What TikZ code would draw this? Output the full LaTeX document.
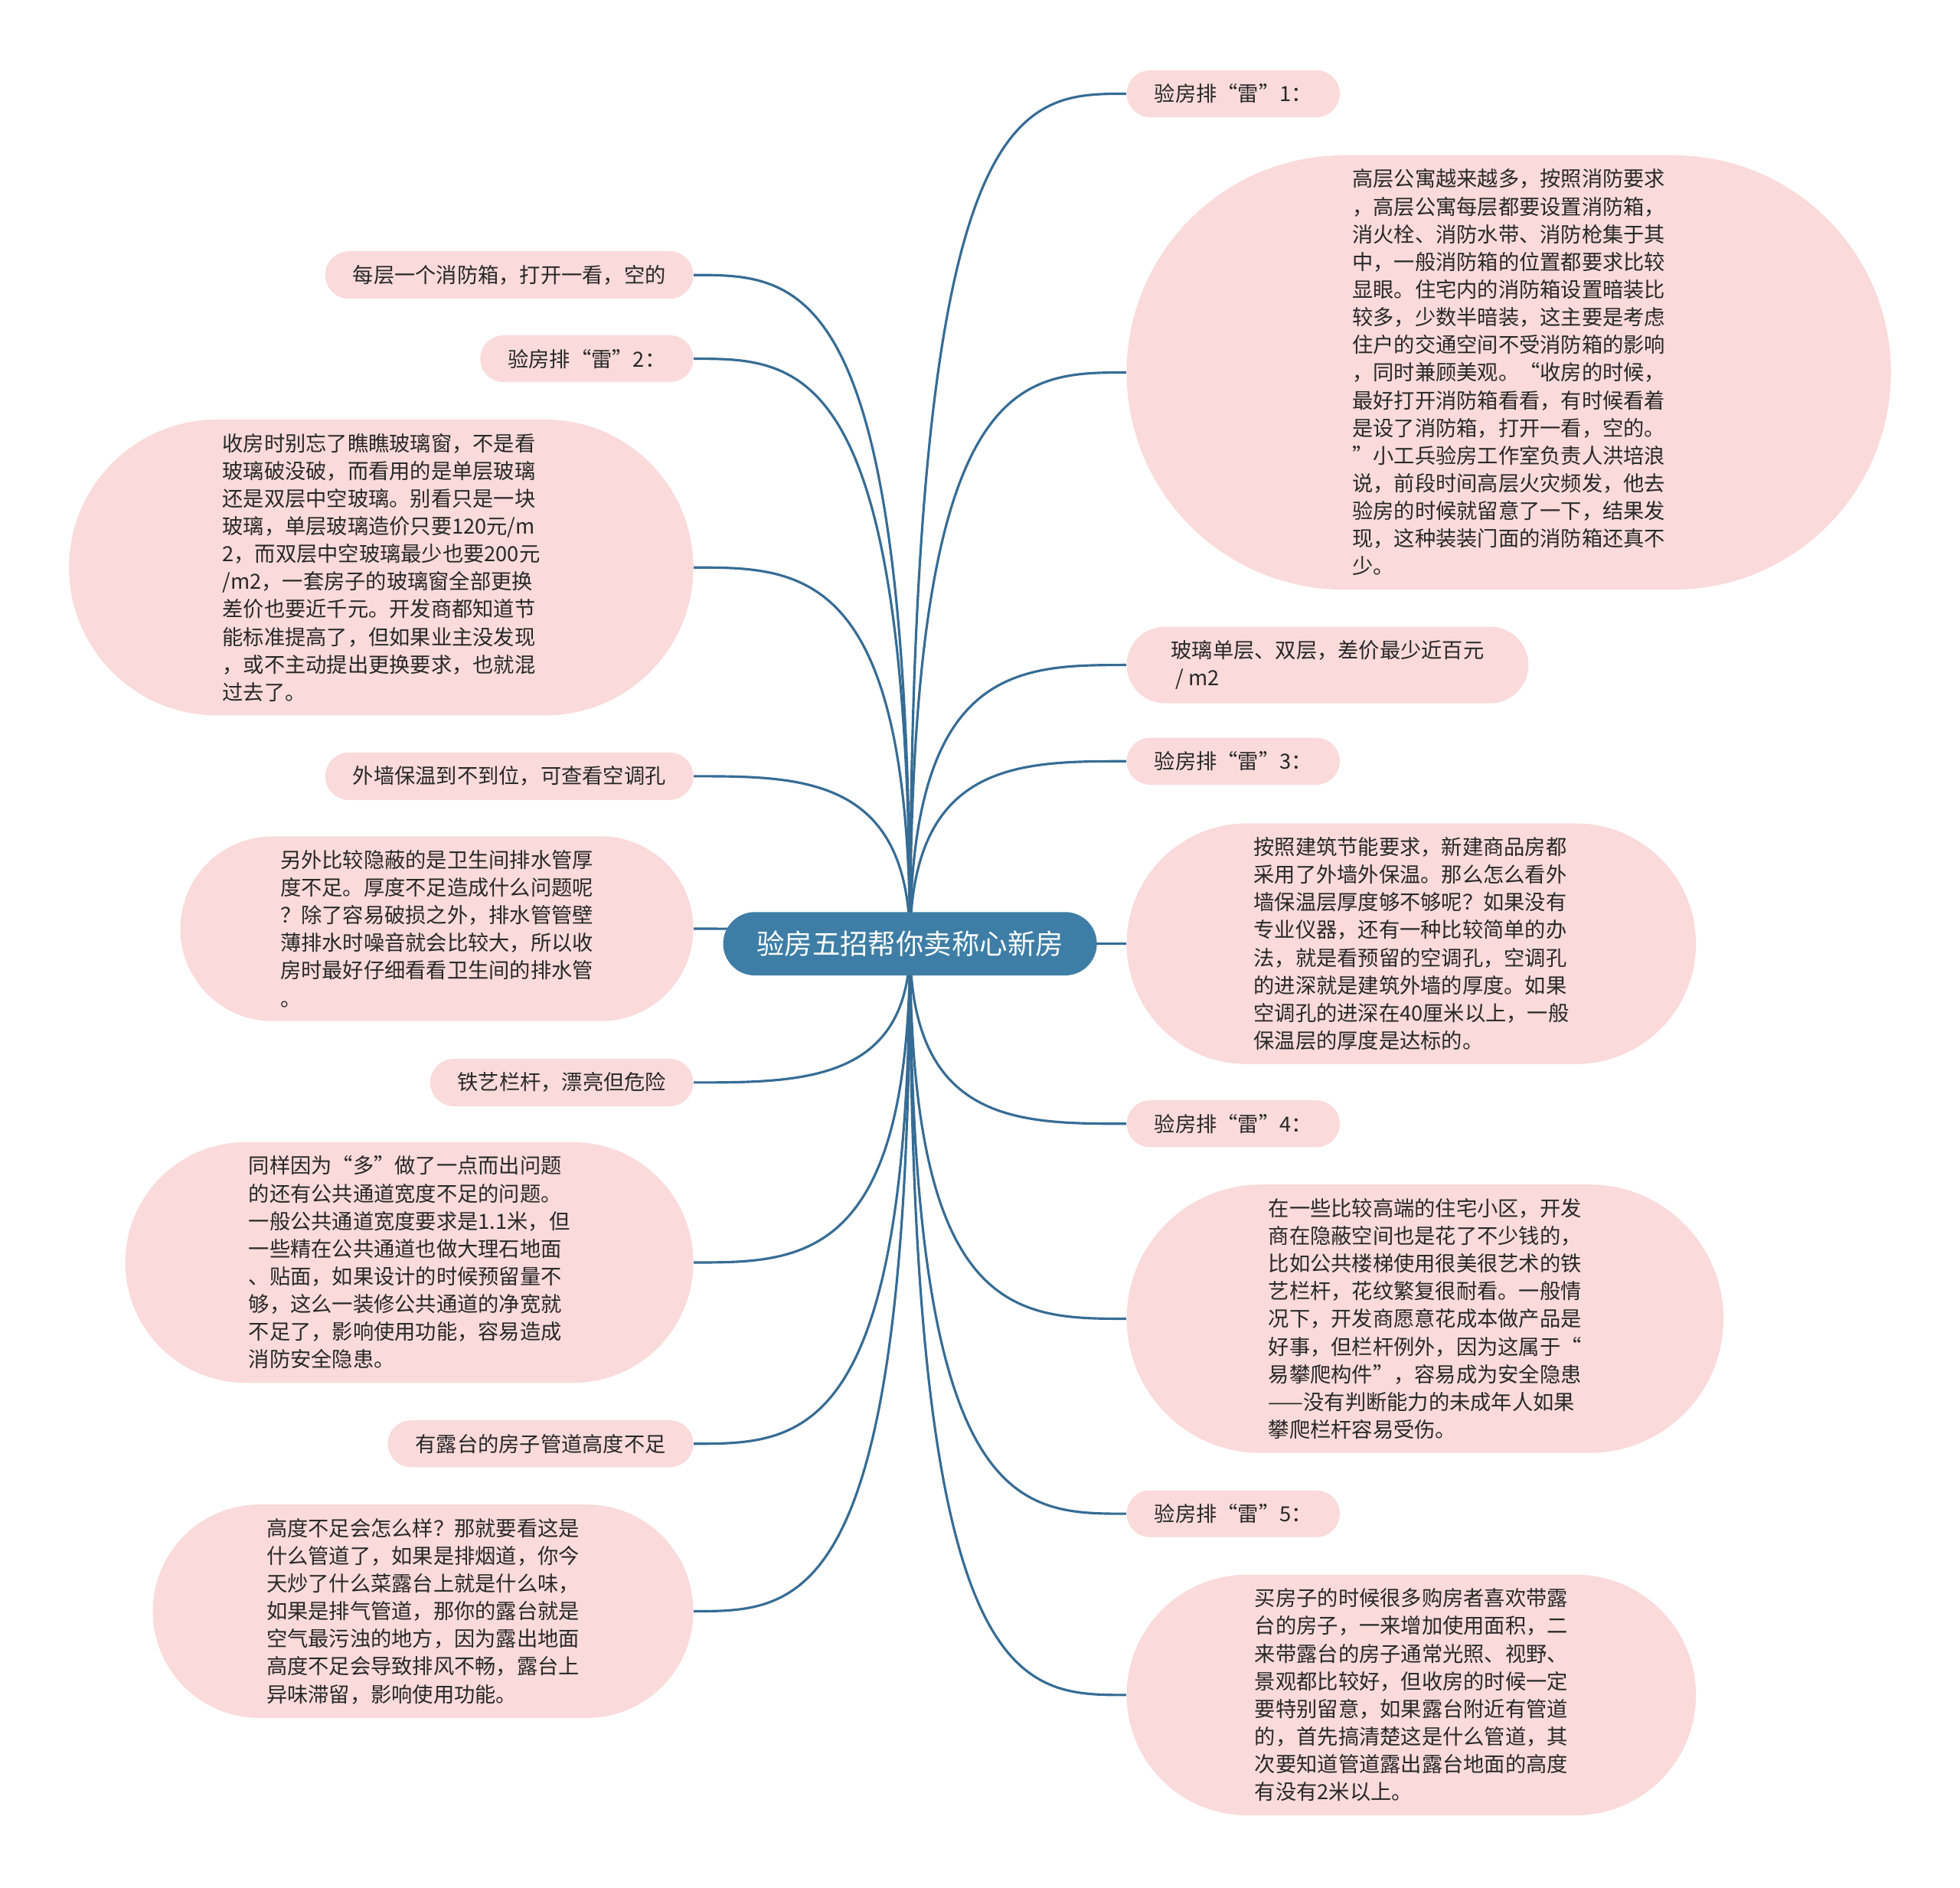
\documentclass[tikz,border=0pt]{standalone}
\usepackage{fontspec}
\usepackage{tikz}
\usetikzlibrary{shapes.misc,calc,backgrounds}
\newfontfamily\cjkfont{Noto Sans CJK SC}
\definecolor{leafpink}{RGB}{250,218,218}
\definecolor{hubblue}{RGB}{62,126,166}
\definecolor{linkblue}{RGB}{54,108,148}
\definecolor{inkgray}{RGB}{40,40,40}

\begin{document}
\begin{tikzpicture}[x=0.02cm,y=-0.02cm]
        \tikzstyle{leaf}=[rounded rectangle, fill=leafpink, text=inkgray, inner xsep=0.1cm, inner ysep=0.22cm, align=left, font=\cjkfont\fontsize{9.5}{12.6}\selectfont]
        \tikzstyle{tag}=[leaf, minimum width=3.61cm]
        \tikzstyle{hub}=[rounded rectangle, fill=hubblue, text=white, inner xsep=0.05cm, inner ysep=0.3cm, minimum width=6.08cm, font=\cjkfont\fontsize{12.7}{15}\selectfont]
        \tikzstyle{link}=[draw=linkblue, line width=1.1pt]

            \useasboundingbox (0,0) rectangle (1568,1510);

            \node[hub](hub) at (728,755){验房五招帮你卖称心新房};

            % right side
            \node[tag, anchor=west](r1) at (901,75){验房排“雷”1：};
            \node[leaf, anchor=west, minimum width=12.43cm](r2) at (901,298){高层公寓越来越多，按照消防要求\\，高层公寓每层都要设置消防箱，\\消火栓、消防水带、消防枪集于其\\中，一般消防箱的位置都要求比较\\显眼。住宅内的消防箱设置暗装比\\较多，少数半暗装，这主要是考虑\\住户的交通空间不受消防箱的影响\\，同时兼顾美观。“收房的时候，\\最好打开消防箱看看，有时候看着\\是设了消防箱，打开一看，空的。\\”小工兵验房工作室负责人洪培浪\\说，前段时间高层火灾频发，他去\\验房的时候就留意了一下，结果发\\现，这种装装门面的消防箱还真不\\少。};
            \node[leaf, anchor=west, minimum width=6.63cm](r3) at (901,532){玻璃单层、双层，差价最少近百元\\\ / m2};
            \node[tag, anchor=west](r4) at (901,609){验房排“雷”3：};
            \node[leaf, anchor=west, minimum width=9.31cm](r5) at (901,755){按照建筑节能要求，新建商品房都\\采用了外墙外保温。那么怎么看外\\墙保温层厚度够不够呢？如果没有\\专业仪器，还有一种比较简单的办\\法，就是看预留的空调孔，空调孔\\的进深就是建筑外墙的厚度。如果\\空调孔的进深在40厘米以上，一般\\保温层的厚度是达标的。};
            \node[tag, anchor=west](r6) at (901,899){验房排“雷”4：};
            \node[leaf, anchor=west, minimum width=9.75cm](r7) at (901,1055){在一些比较高端的住宅小区，开发\\商在隐蔽空间也是花了不少钱的，\\比如公共楼梯使用很美很艺术的铁\\艺栏杆，花纹繁复很耐看。一般情\\况下，开发商愿意花成本做产品是\\好事，但栏杆例外，因为这属于“\\易攀爬构件”，容易成为安全隐患\\——没有判断能力的未成年人如果\\攀爬栏杆容易受伤。};
            \node[tag, anchor=west](r8) at (901,1211){验房排“雷”5：};
            \node[leaf, anchor=west, minimum width=9.31cm](r9) at (901,1356){买房子的时候很多购房者喜欢带露\\台的房子，一来增加使用面积，二\\来带露台的房子通常光照、视野、\\景观都比较好，但收房的时候一定\\要特别留意，如果露台附近有管道\\的，首先搞清楚这是什么管道，其\\次要知道管道露出露台地面的高度\\有没有2米以上。};

            % left side
            \node[leaf, anchor=east, minimum width=6.09cm](l1) at (555,220){每层一个消防箱，打开一看，空的};
            \node[tag, anchor=east](l2) at (555,287){验房排“雷”2：};
            \node[leaf, anchor=east, minimum width=10.19cm](l3) at (555,454){收房时别忘了瞧瞧玻璃窗，不是看\\玻璃破没破，而看用的是单层玻璃\\还是双层中空玻璃。别看只是一块\\玻璃，单层玻璃造价只要120元/m\\2，而双层中空玻璃最少也要200元\\/m2，一套房子的玻璃窗全部更换\\差价也要近千元。开发商都知道节\\能标准提高了，但如果业主没发现\\，或不主动提出更换要求，也就混\\过去了。};
            \node[leaf, anchor=east, minimum width=6.09cm](l4) at (555,621){外墙保温到不到位，可查看空调孔};
            \node[leaf, anchor=east, minimum width=8.41cm](l5) at (555,743){另外比较隐蔽的是卫生间排水管厚\\度不足。厚度不足造成什么问题呢\\？除了容易破损之外，排水管管壁\\薄排水时噪音就会比较大，所以收\\房时最好仔细看看卫生间的排水管\\。};
            \node[leaf, anchor=east, minimum width=4.41cm](l6) at (555,866){铁艺栏杆，漂亮但危险};
            \node[leaf, anchor=east, minimum width=9.29cm](l7) at (555,1010){同样因为“多”做了一点而出问题\\的还有公共通道宽度不足的问题。\\一般公共通道宽度要求是1.1米，但\\一些精在公共通道也做大理石地面\\、贴面，如果设计的时候预留量不\\够，这么一装修公共通道的净宽就\\不足了，影响使用功能，容易造成\\消防安全隐患。};
            \node[leaf, anchor=east, minimum width=5.09cm](l8) at (555,1155){有露台的房子管道高度不足};
            \node[leaf, anchor=east, minimum width=8.85cm](l9) at (555,1289){高度不足会怎么样？那就要看这是\\什么管道了，如果是排烟道，你今\\天炒了什么菜露台上就是什么味，\\如果是排气管道，那你的露台就是\\空气最污浊的地方，因为露出地面\\高度不足会导致排风不畅，露台上\\异味滞留，影响使用功能。};

            \begin{scope}[on background layer]
            \foreach \to in {r1,r2,r3,r4,r5,r6,r7,r8,r9}
            \draw[link] (hub.center) .. controls (hub.center |- \to.west) and ($(hub.center |- \to.west)!0.5!(\to.west)$) .. (\to.west);

            \foreach \to in {l1,l2,l3,l4,l5,l6,l7,l8,l9}
            \draw[link] (hub.center) .. controls (hub.center |- \to.east) and ($(hub.center |- \to.east)!0.5!(\to.east)$) .. (\to.east);
            \end{scope}

\end{tikzpicture}
\end{document}
